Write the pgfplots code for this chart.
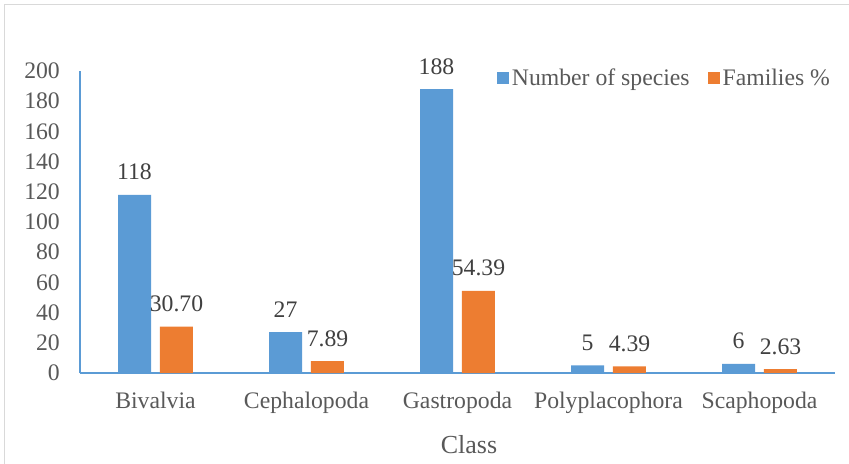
\documentclass[border=0pt]{standalone}
\usepackage{pgfplots}
\pgfplotsset{compat=1.18}
\usepackage{fontspec}
\setmainfont{Liberation Serif}
\definecolor{sblue}{HTML}{5B9BD5}
\definecolor{sorange}{HTML}{ED7D31}
\definecolor{tgray}{HTML}{595959}
\definecolor{lgray}{HTML}{404040}
\definecolor{fgray}{HTML}{D9D9D9}
\begin{document}
\begin{tikzpicture}
\useasboundingbox (0,0) rectangle (849bp,-464bp);
\draw[fgray, line width=1.5bp] (4.5bp,-464bp) -- (4.5bp,-4.5bp) -- (849bp,-4.5bp);
\begin{axis}[
  at={(80bp,-373bp)}, anchor=south west,
  scale only axis, width=755bp, height=302bp,
  xmin=-0.5, xmax=4.5, ymin=0, ymax=200,
  ytick={0,20,...,200},
  xtick={0,1,2,3,4},
  xticklabels={Bivalvia,Cephalopoda,Gastropoda,Polyplacophora,Scaphopoda},
  axis x line*=bottom, axis y line*=left,
  axis line style={-, draw=sblue, line width=1.3bp},
  major tick length=0pt,
  /pgf/number format/assume math mode=true,
  tick label style={font=\fontsize{23.7bp}{28bp}\selectfont, text=tgray},
  yticklabel style={anchor=east, inner sep=0pt, xshift=-20bp},
  xticklabel style={anchor=base, inner sep=0pt, yshift=-35bp},
  ybar, bar width=0.2185,
  point meta=explicit symbolic,
  nodes near coords,
  nodes near coords style={font=\fontsize{23.7bp}{28bp}\selectfont, text=lgray, anchor=base, inner sep=0pt, yshift=15bp},
  legend columns=2,
  legend style={at={(0.552,0.977)}, anchor=west, draw=none, fill=none, inner sep=0pt,
    font=\fontsize{23.7bp}{28bp}\selectfont, text=tgray,
    nodes={inner sep=3bp},
    /tikz/every even column/.append style={column sep=15bp}},
  legend image code/.code={\fill[#1] (-3bp,-6bp) rectangle (9bp,6bp);},
  clip=false,
]
\addplot[fill=sblue, draw=none, bar shift=-0.139] coordinates {
  (0,118) [118] (1,27) [27] (2,188) [188] (3,5) [5] (4,6) [6]};
\addplot[fill=sorange, draw=none, bar shift=0.139] coordinates {
  (0,30.70) [30.70] (1,7.89) [7.89] (2,54.39) [54.39] (3,4.39) [4.39] (4,2.63) [2.63]};
\legend{Number of species, Families \%}
\end{axis}
\node[anchor=base, text=tgray, font=\fontsize{26bp}{30bp}\selectfont] at (469bp,-453bp) {Class};
\end{tikzpicture}
\end{document}
